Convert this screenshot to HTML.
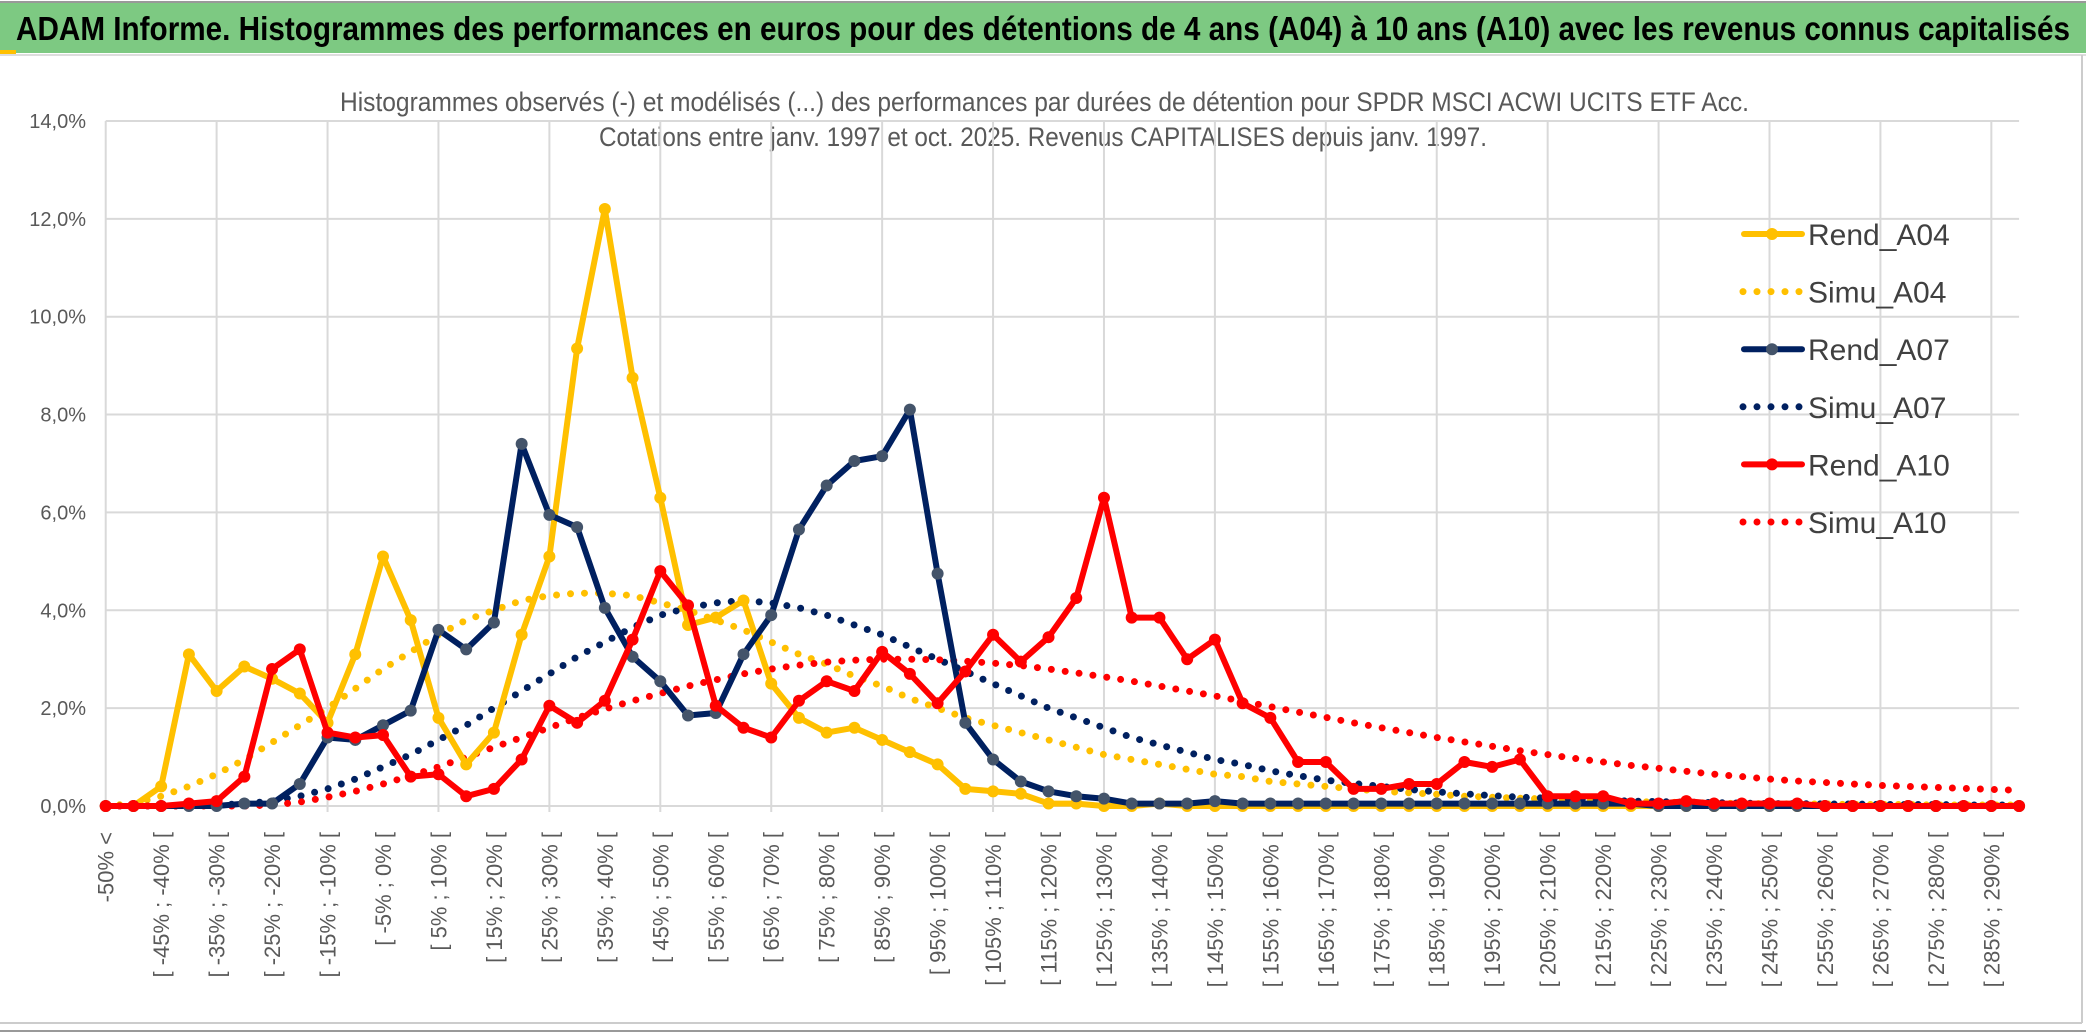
<!DOCTYPE html>
<html><head><meta charset="utf-8"><style>
html,body{margin:0;padding:0;background:#fff;}
svg{display:block;}
text{font-family:"Liberation Sans Narrow","Liberation Sans",sans-serif;}
</style></head><body>
<svg id="chart" width="2086" height="1033" viewBox="0 0 2086 1033" xmlns="http://www.w3.org/2000/svg">
<rect x="0" y="0" width="2086" height="1033" fill="#fff"/>
<rect x="0" y="3" width="2086" height="50" fill="#7dc982"/>
<line x1="0" y1="2" x2="2086" y2="2" stroke="#999" stroke-width="2"/>
<line x1="0" y1="55" x2="2086" y2="55" stroke="#ddd" stroke-width="2"/>
<rect x="0" y="50" width="16" height="4" fill="#ffc000"/>
<text x="16" y="40" font-size="33" font-weight="bold" fill="#000" textLength="2054" lengthAdjust="spacingAndGlyphs">ADAM Informe. Histogrammes des performances en euros pour des détentions de 4 ans (A04) à 10 ans (A10) avec les revenus connus capitalisés</text>
<text x="340" y="111" font-size="27" fill="#595959" textLength="1409" lengthAdjust="spacingAndGlyphs">Histogrammes observés (-) et modélisés (...) des performances par durées de détention pour SPDR MSCI ACWI UCITS ETF Acc.</text>
<text x="599" y="146" font-size="27" fill="#595959" textLength="888" lengthAdjust="spacingAndGlyphs">Cotations entre janv. 1997 et oct. 2025. Revenus CAPITALISES depuis janv. 1997.</text>
<g id="grid"></g>
<g id="yticks"></g>
<g id="xticks"></g>
<g id="series"></g>
<g id="legend"></g>
<line x1="2082" y1="55" x2="2082" y2="1023" stroke="#ccc" stroke-width="2"/>
<line x1="0" y1="1023" x2="2082" y2="1023" stroke="#ccc" stroke-width="2"/>
<line x1="0" y1="1031" x2="2086" y2="1031" stroke="#999" stroke-width="2"/>
</svg>
<script>
const binStarts = [];
for (let b = -50; b <= 290; b += 5) binStarts.push(b);
const categories = ["-50% <"].concat(binStarts.map(b => "[ " + b + "% ; " + (b + 5) + "% [")).slice(0, 70);
const yTicks = [0, 2, 4, 6, 8, 10, 12, 14];
const yTickLabels = ["0,0%", "2,0%", "4,0%", "6,0%", "8,0%", "10,0%", "12,0%", "14,0%"];
const rendA04 = [0,0,0.4,3.1,2.35,2.85,2.6,2.3,1.7,3.1,
 5.1,3.8,1.8,0.85,1.5,3.5,5.1,9.35,12.2,8.75,
 6.3,3.7,3.85,4.2,2.5,1.8,1.5,1.6,1.35,1.1,
 0.85,0.35,0.3,0.25,0.05,0.05,0,0,0.05,0,
 0,0,0,0,0,0,0,0,0,0,
 0,0,0,0,0,0,0,0,0,0,
 0,0,0,0,0,0,0,0,0,0];
const simuA04 = [0,0.05,0.2,0.4,0.65,0.95,1.3,1.65,2.0,2.4,
 2.8,3.15,3.5,3.8,4.0,4.2,4.3,4.35,4.35,4.3,
 4.15,4.0,3.8,3.6,3.35,3.1,2.9,2.65,2.45,2.2,
 2.0,1.8,1.65,1.5,1.35,1.2,1.05,0.95,0.85,0.75,
 0.65,0.6,0.5,0.45,0.4,0.35,0.3,0.27,0.24,0.2,
 0.18,0.16,0.14,0.12,0.1,0.09,0.08,0.07,0.06,0.05,
 0.05,0.04,0.04,0.03,0.03,0.03,0.02,0.02,0.02,0.02];
const rendA07 = [0,0,0,0,0,0.05,0.05,0.45,1.4,1.35,
 1.65,1.95,3.6,3.2,3.75,7.4,5.95,5.7,4.05,3.05,
 2.55,1.85,1.9,3.1,3.9,5.65,6.55,7.05,7.15,8.1,
 4.75,1.7,0.95,0.5,0.3,0.2,0.15,0.05,0.05,0.05,
 0.1,0.05,0.05,0.05,0.05,0.05,0.05,0.05,0.05,0.05,
 0.05,0.05,0.05,0.05,0.05,0.05,0,0,0,0,
 0,0,0,0,0,0,0,0,0,0];
const simuA07 = [0,0,0,0,0.02,0.05,0.1,0.2,0.35,0.55,
 0.8,1.05,1.35,1.65,2.0,2.35,2.7,3.05,3.35,3.65,
 3.9,4.05,4.15,4.2,4.15,4.05,3.9,3.7,3.5,3.25,
 3.0,2.75,2.5,2.25,2.0,1.8,1.6,1.4,1.25,1.1,
 0.95,0.85,0.72,0.62,0.53,0.46,0.4,0.34,0.29,0.25,
 0.21,0.18,0.16,0.14,0.12,0.1,0.09,0.08,0.07,0.06,
 0.05,0.05,0.04,0.04,0.03,0.03,0.03,0.02,0.02,0.02];
const rendA10 = [0,0,0,0.05,0.1,0.6,2.8,3.2,1.5,1.4,
 1.45,0.6,0.65,0.2,0.35,0.95,2.05,1.7,2.15,3.4,
 4.8,4.1,2.05,1.6,1.4,2.15,2.55,2.35,3.15,2.7,
 2.1,2.75,3.5,2.95,3.45,4.25,6.3,3.85,3.85,3.0,
 3.4,2.1,1.8,0.9,0.9,0.35,0.35,0.45,0.45,0.9,
 0.8,0.95,0.2,0.2,0.2,0.05,0.05,0.1,0.05,0.05,
 0.05,0.05,0,0,0,0,0,0,0,0];
const simuA10 = [0,0,0,0,0,0,0.02,0.08,0.18,0.3,
 0.45,0.62,0.8,1.0,1.2,1.4,1.6,1.8,1.98,2.15,
 2.3,2.45,2.58,2.7,2.8,2.88,2.94,2.98,3.0,3.0,
 2.99,2.96,2.92,2.87,2.8,2.72,2.64,2.55,2.45,2.35,
 2.25,2.14,2.03,1.92,1.81,1.7,1.6,1.5,1.4,1.31,
 1.22,1.13,1.05,0.97,0.9,0.83,0.77,0.71,0.65,0.6,
 0.55,0.51,0.48,0.45,0.42,0.4,0.38,0.36,0.34,0.32];

const NS = "http://www.w3.org/2000/svg";
const X0 = 105.7, DX = 27.73, Y0 = 806, YPER = 48.93;
function xPos(i){ return X0 + i * DX; }
function yPos(v){ return Y0 - v * YPER; }
function mk(tag, attrs, parent){
  const e = document.createElementNS(NS, tag);
  for (const k in attrs) e.setAttribute(k, attrs[k]);
  parent.appendChild(e);
  return e;
}
const grid = document.getElementById("grid");
const xEnd = xPos(categories.length - 1);
yTicks.forEach(t => {
  const l = mk("line", {x1: X0, x2: xEnd, y1: yPos(t), y2: yPos(t), stroke: "#d9d9d9", "stroke-width": 2}, grid);
  
  
});
for (let i = 0; i < categories.length; i += 4) {
  const l = mk("line", {x1: xPos(i), x2: xPos(i), y1: yPos(14), y2: Y0 + 6, stroke: "#d9d9d9", "stroke-width": 2}, grid);
  
  
}
const yt = document.getElementById("yticks");
yTicks.forEach((t, k) => {
  const e = mk("text", {x: 86, y: yPos(t) + 7, "text-anchor": "end", "font-size": 20, fill: "#595959"}, yt);
  e.textContent = yTickLabels[k];
  
  
});
const xt = document.getElementById("xticks");
for (let i = 0; i < categories.length; i += 2) {
  const x = xPos(i) + 8, y = 832;
  const e = mk("text", {x: x, y: y, "text-anchor": "end", "font-size": 22, fill: "#595959", transform: "rotate(-90 " + x + " " + y + ")", style: "font-family:'Liberation Sans',sans-serif"}, xt);
  e.textContent = categories[i];
  
  
}
const ser = document.getElementById("series");
function pts(arr){ return arr.map((v, i) => xPos(i).toFixed(1) + "," + yPos(v).toFixed(1)).join(" "); }
function dotted(arr, color, name){
  const p = mk("polyline", {points: pts(arr), fill: "none", stroke: color, "stroke-width": 7, "stroke-linecap": "round", "stroke-dasharray": "0 14"}, ser);
  
  
}
function solid(arr, color, mcolor, name){
  const p = mk("polyline", {points: pts(arr), fill: "none", stroke: color, "stroke-width": 6, "stroke-linejoin": "round"}, ser);
  
  
  arr.forEach((v, i) => {
    const c = mk("circle", {cx: xPos(i), cy: yPos(v), r: 6, fill: mcolor}, ser);
    
    
  });
}
dotted(simuA04, "#ffc000", "simu-a04-line");
dotted(simuA07, "#002060", "simu-a07-line");
dotted(simuA10, "#ff0000", "simu-a10-line");
solid(rendA04, "#ffc000", "#ffc000", "rend-a04-line");
solid(rendA07, "#002060", "#44546a", "rend-a07-line");
solid(rendA10, "#ff0000", "#ff0000", "rend-a10-line");

const lg = document.getElementById("legend");
const legendNames = ["Rend_A04", "Simu_A04", "Rend_A07", "Simu_A07", "Rend_A10", "Simu_A10"];
const legendColors = ["#ffc000", "#ffc000", "#002060", "#002060", "#ff0000", "#ff0000"];
legendNames.forEach((n, k) => {
  const y = 234 + k * 57.6;
  const g = mk("g", {}, lg);
  
  
  if (k % 2 === 0) {
    mk("line", {x1: 1744, x2: 1802, y1: y, y2: y, stroke: legendColors[k], "stroke-width": 6, "stroke-linecap": "round"}, g);
    mk("circle", {cx: 1772, cy: y, r: 6, fill: k === 2 ? "#44546a" : legendColors[k]}, g);
  } else {
    mk("line", {x1: 1743, x2: 1802, y1: y, y2: y, stroke: legendColors[k], "stroke-width": 7, "stroke-linecap": "round", "stroke-dasharray": "0 14"}, g);
  }
  const t = mk("text", {x: 1808, y: y + 11, "font-size": 30, fill: "#404040"}, g);
  t.textContent = n;
});
</script>
</body></html>
